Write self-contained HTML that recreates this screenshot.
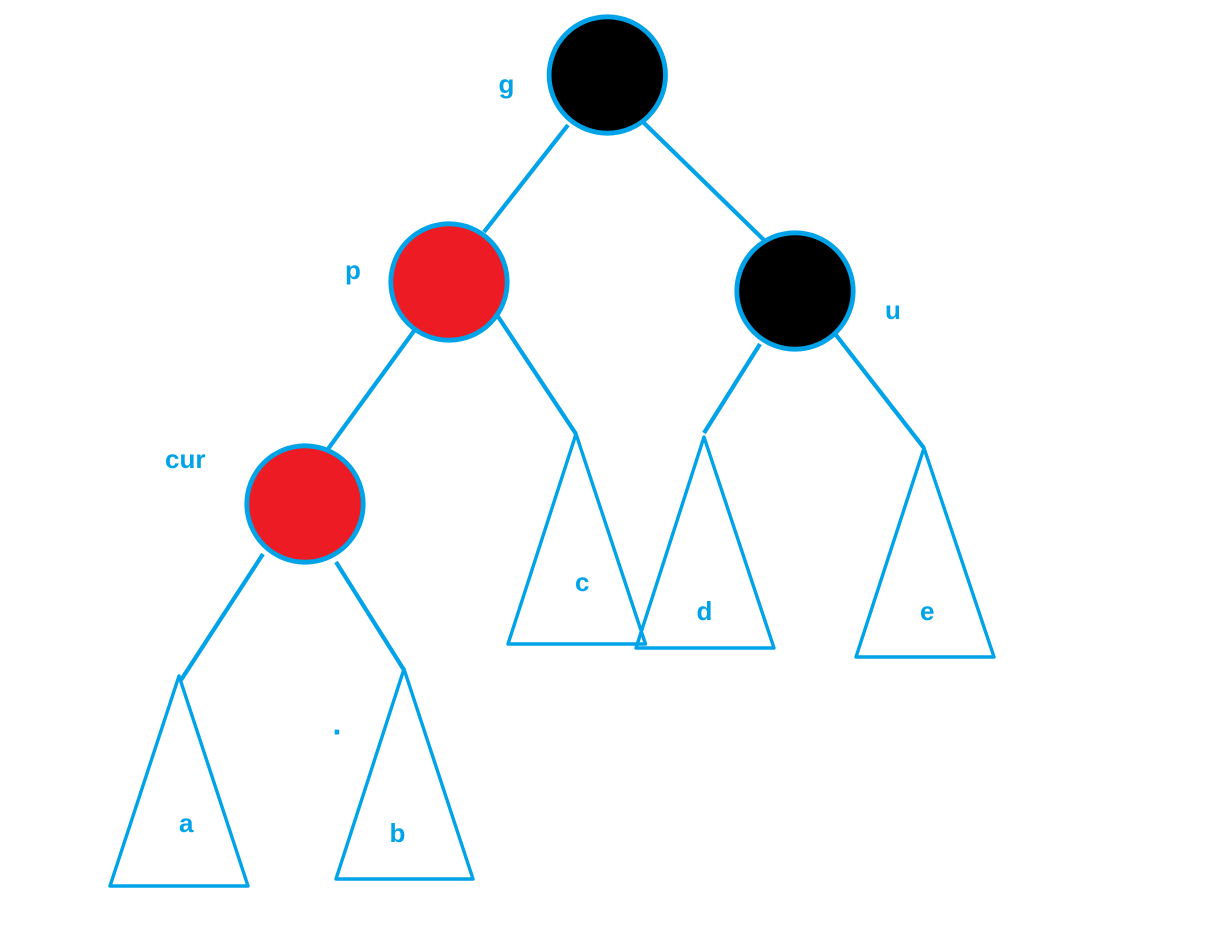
<!DOCTYPE html>
<html>
<head>
<meta charset="utf-8">
<style>
html,body{margin:0;padding:0;background:#fff;width:1216px;height:947px;overflow:hidden}
svg{display:block}
text{font-family:"Liberation Sans",sans-serif;font-weight:bold;font-size:26px;fill:#00a2e8}
</style>
</head>
<body>
<svg width="1216" height="947" viewBox="0 0 1216 947" xmlns="http://www.w3.org/2000/svg">
<g stroke="#00a2e8" fill="none" stroke-width="4.2">
<line x1="568" y1="125" x2="484" y2="232"/>
<line x1="643" y1="122" x2="764" y2="240"/>
<line x1="414" y1="331" x2="328" y2="449"/>
<line x1="497" y1="315" x2="576" y2="434"/>
<line x1="760" y1="344" x2="704" y2="433"/>
<line x1="836" y1="335" x2="924" y2="448"/>
<line x1="263" y1="554" x2="181" y2="680"/>
<line x1="336" y1="562" x2="404" y2="670"/>
<g stroke-width="3.4" stroke-linejoin="round">
<polygon points="576,434 508,644 645.5,644"/>
<polygon points="704,437 636,648 774,648"/>
<polygon points="924,448 856,657 994,657"/>
<polygon points="179,676 110,886 248,886"/>
<polygon points="404,669 336,879 473,879"/>
</g>
<circle cx="607.3" cy="75" r="58.2" fill="#000" stroke-width="4.8"/>
<circle cx="449" cy="282" r="58.2" fill="#ed1c24" stroke-width="4.8"/>
<circle cx="795" cy="291" r="58.2" fill="#000" stroke-width="4.8"/>
<circle cx="305" cy="504" r="58.2" fill="#ed1c24" stroke-width="4.8"/>
</g>
<text x="498.5" y="93">g</text>
<text x="345" y="279">p</text>
<text x="885" y="319">u</text>
<text x="165" y="468">cur</text>
<text x="575" y="591">c</text>
<text x="696.5" y="620">d</text>
<text x="920" y="620">e</text>
<text x="179" y="832">a</text>
<text x="389.5" y="842">b</text>
<text x="332.5" y="734.5" style="font-size:32px">.</text>
</svg>
</body>
</html>
